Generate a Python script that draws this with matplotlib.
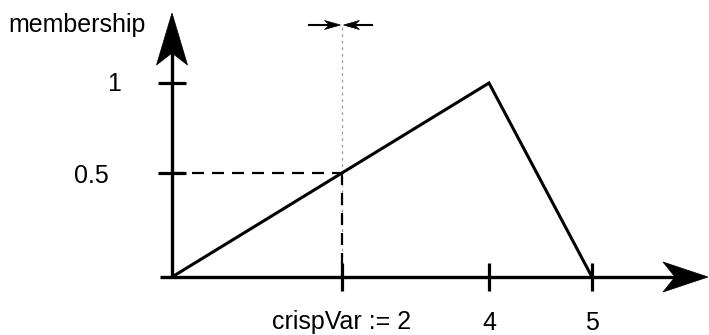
import numpy as np
import matplotlib
matplotlib.use('Agg')
import matplotlib.pyplot as plt
from matplotlib import transforms
from matplotlib.patches import Polygon

plt.rcParams['font.family'] = ['Liberation Sans', 'DejaVu Sans']

# ---------------- data ----------------
mf_x = [0, 4, 5]            # triangular membership function corners
mf_y = [0, 1, 0]
x_ticks = [2, 4, 5]
x_tick_labels = ['crispVar := 2', '4', '5']
y_ticks = [0.5, 1]
y_tick_labels = ['0.5', '1']
crisp_value = 2
crisp_membership = 0.5
y_axis_label = 'membership'

# ---------------- layout ----------------
W, H, DPI = 709, 335, 100
fig = plt.figure(figsize=(W / DPI, H / DPI), dpi=DPI)
ax = fig.add_axes([0, 0, 1, 1])
ax.set_axis_off()

# schematic (not to scale) drawing: value knots -> pixel positions
XK = [-50, 0, 2, 4, 5, 50]
XP = [172 - 50 * 85, 172, 342, 489, 592, 592 + 45 * 103]
YK = [-50, 0, 0.5, 1, 50]
YP = [58 - 50 * 209, 58, 162.5, 252, 252 + 49 * 179]

fx = lambda v: np.interp(v, XK, XP)
ix = lambda p: np.interp(p, XP, XK)
fy = lambda v: np.interp(v, YK, YP)
iy = lambda p: np.interp(p, YP, YK)
ax.set_xscale('function', functions=(fx, ix))
ax.set_yscale('function', functions=(fy, iy))
ax.set_xlim(ix(0), ix(W))
ax.set_ylim(iy(0), iy(H))

PX = 0.72  # points per pixel at 100 dpi
K = 'black'


def px2data(xp, ytop):
    return float(ix(xp)), float(iy(H - ytop))


def arrowhead(tip, direction, length, half_w, notch):
    d = np.array(direction, float)
    d /= np.linalg.norm(d)
    n = np.array([-d[1], d[0]])
    tip = np.asarray(tip, float)
    pts = [tip, tip - d * length + n * half_w, tip - d * notch,
           tip - d * length - n * half_w]
    ax.add_patch(Polygon(pts, closed=True, facecolor=K, edgecolor=K, lw=0.5,
                         transform=transforms.IdentityTransform(), zorder=5))


fig.canvas.draw()
ox, oy = ax.transData.transform((0, 0))

# axes lines
x_start, _ = px2data(160, 0)
x_end, _ = px2data(690, 0)
ax.plot([x_start, x_end], [0, 0], color=K, lw=2.4, solid_capstyle='butt')
_, y_end = px2data(0, 40)
ax.plot([0, 0], [0, y_end], color=K, lw=2.4, solid_capstyle='butt')
arrowhead((708, oy), (1, 0), 45, 15, 33)
arrowhead((ox, H - 13), (0, 1), 52, 15.5, 40)

# ticks
ax.plot(x_ticks, [0] * len(x_ticks), ls='none', marker='|', ms=28 * PX,
        mew=2.3, color=K)
ax.plot([0] * len(y_ticks), y_ticks, ls='none', marker='_', ms=28 * PX,
        mew=2.3, color=K)

# tick labels
for xv, lab in zip(x_ticks, x_tick_labels):
    ax.annotate(lab, xy=(xv, 0), xytext=(0, -52.5 * PX), textcoords='offset points',
                ha='center', va='baseline', fontsize=18)
y_lab_dx = [-63, -51]
y_lab_dy = [-10.5, -8]
for yv, lab, dx, dy in zip(y_ticks, y_tick_labels, y_lab_dx, y_lab_dy):
    ax.annotate(lab, xy=(0, yv), xytext=(dx * PX, dy * PX), textcoords='offset points',
                ha='right', va='baseline', fontsize=18)
fig.text(8.5 / W, (H - 32) / H, y_axis_label, ha='left', va='baseline', fontsize=18)

# guide lines
_, guide_top = px2data(0, 27)
ax.plot([crisp_value, crisp_value], [0, guide_top], color='#9a9a9a', lw=0.9,
        dashes=(2.2, 3.0), zorder=1)
ax.plot([0, crisp_value], [crisp_membership, crisp_membership], color=K, lw=1.6,
        dashes=(5.4, 3.6), zorder=2)
ax.plot([crisp_value, crisp_value], [crisp_membership, 0], color=K, lw=1.6,
        dashes=(5.4, 3.6), zorder=2)

# membership function
ax.plot(mf_x, mf_y, color=K, lw=2.2, solid_joinstyle='miter', zorder=4)

# crisp marker arrows at top
cx, _ = ax.transData.transform((crisp_value, 0))
ay = H - 25
ax.plot([ix(cx - 34), ix(cx - 10)], [iy(ay), iy(ay)], color=K, lw=1.5,
        solid_capstyle='butt')
ax.plot([ix(cx + 31), ix(cx + 10)], [iy(ay), iy(ay)], color=K, lw=1.5,
        solid_capstyle='butt')
arrowhead((cx - 1.5, ay), (1, 0), 16, 4.5, 11)
arrowhead((cx + 1.5, ay), (-1, 0), 16, 4.5, 11)

fig.savefig('out.png', dpi=DPI)
